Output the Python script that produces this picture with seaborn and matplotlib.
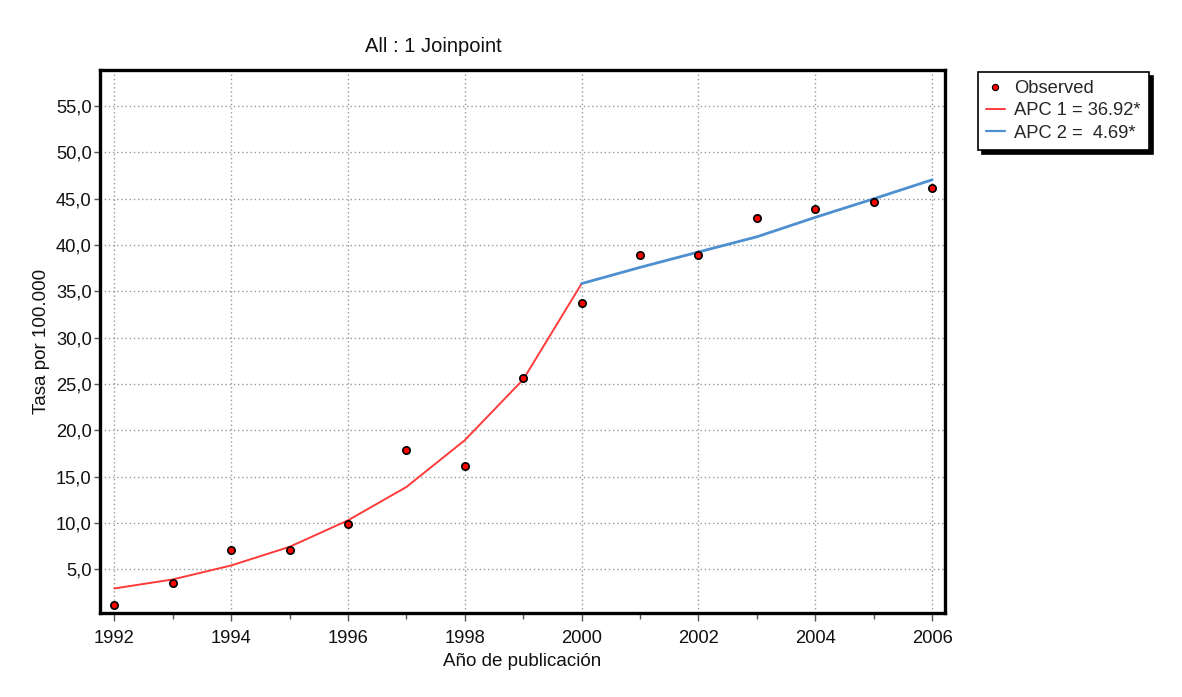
import matplotlib
matplotlib.use("Agg")
import matplotlib.pyplot as plt
import seaborn as sns
import pandas as pd
from matplotlib.ticker import FuncFormatter, MultipleLocator
from matplotlib.lines import Line2D

# ---- data ----
years = list(range(1992, 2007))
observed = [1.15, 3.5, 7.05, 7.05, 9.9, 17.9, 16.15, 25.7, 33.8,
            38.95, 38.95, 42.95, 43.9, 44.65, 46.2]
seg1_years = list(range(1992, 2001))
seg1_fit = [2.95, 3.92, 5.43, 7.44, 10.3, 13.9, 18.95, 25.5, 35.85]
seg2_years = list(range(2000, 2007))
seg2_fit = [35.85, 37.6, 39.26, 40.9, 43.0, 45.0, 47.05]

title = "All : 1 Joinpoint"
xlabel = "Año de publicación"
ylabel = "Tasa por 100.000"
legend_labels = ["Observed", "APC 1 = 36.92*", "APC 2 =  4.69*"]

red = "#ff3b3b"
blue = "#4d8fcf"

sns.set_theme(style="white")
plt.rcParams["font.family"] = ["Liberation Sans", "DejaVu Sans"]

df_obs = pd.DataFrame({"year": years, "rate": observed})
df_s1 = pd.DataFrame({"year": seg1_years, "rate": seg1_fit})
df_s2 = pd.DataFrame({"year": seg2_years, "rate": seg2_fit})

W, H = 1182, 697
L, R, T, B = 100, 945, 70, 613
fig = plt.figure(figsize=(W / 100, H / 100), dpi=100)
ax = fig.add_axes([L / W, 1 - B / H, (R - L) / W, (B - T) / H])

sns.lineplot(data=df_s1, x="year", y="rate", ax=ax, color=red, linewidth=1.4, zorder=3)
sns.lineplot(data=df_s2, x="year", y="rate", ax=ax, color=blue, linewidth=2.0, zorder=3)
sns.scatterplot(data=df_obs, x="year", y="rate", ax=ax, color="#ff0000",
                edgecolor="black", linewidth=1.2, s=28, zorder=4)

ax.set_xlim(1991.755, 2006.22)
ax.set_ylim(0.3, 58.9)
ax.set_yticks([5, 10, 15, 20, 25, 30, 35, 40, 45, 50, 55])
ax.yaxis.set_major_formatter(FuncFormatter(lambda v, p: f"{v:.1f}".replace(".", ",")))
ax.xaxis.set_major_locator(MultipleLocator(2))
ax.xaxis.set_minor_locator(MultipleLocator(1))
ax.xaxis.set_major_formatter(FuncFormatter(lambda v, p: f"{int(round(v))}"))

ax.grid(True, which="major", color="#9a9a9a", linestyle=(0, (1, 2)), linewidth=1.0)
ax.set_axisbelow(True)
for s in ax.spines.values():
    s.set_visible(True)
    s.set_color("black")
    s.set_linewidth(2.4)

ax.tick_params(axis="x", which="major", direction="out", length=6, width=1,
               color="#555555", labelsize=13.2, labelcolor="#111111", pad=6,
               bottom=True)
ax.tick_params(axis="x", which="minor", direction="out", length=4.5, width=1,
               color="#555555", bottom=True)
ax.tick_params(axis="y", which="major", direction="out", length=4, width=1,
               color="#555555", labelsize=13.2, labelcolor="#111111", pad=2,
               left=True)

ax.set_xlabel(xlabel, fontsize=13.5, color="#111111")
ax.set_ylabel(ylabel, fontsize=13.5, color="#111111")
ax.xaxis.set_label_coords(0.5, -(662 - B) / (B - T))
ax.xaxis.label.set_va("center")
ax.yaxis.set_label_coords(-(L - 42) / (R - L), 0.5)
ax.yaxis.label.set_va("center")

fig.text(433 / W, 1 - 47 / H, title, ha="center", va="center", fontsize=14.5, color="#111111")

handles = [
    Line2D([], [], linestyle="none", marker="o", markersize=4.5,
           markerfacecolor="#ff0000", markeredgecolor="black", markeredgewidth=0.8),
    Line2D([], [], color=red, linewidth=1.4),
    Line2D([], [], color=blue, linewidth=1.6),
]
leg = fig.legend(handles, legend_labels, loc="upper left",
                 bbox_to_anchor=(978 / W, 1 - 72 / H), fontsize=13.2,
                 frameon=True, fancybox=False, handlelength=1.0,
                 handletextpad=0.5, borderpad=0.45, labelspacing=0.28,
                 borderaxespad=0,
                 shadow={"ox": 3, "oy": -3, "facecolor": "black",
                         "edgecolor": "black", "alpha": 1})
leg.get_frame().set_edgecolor("black")
leg.get_frame().set_linewidth(1.2)
leg.get_frame().set_facecolor("white")

fig.savefig("out.png", dpi=100, facecolor="white")
